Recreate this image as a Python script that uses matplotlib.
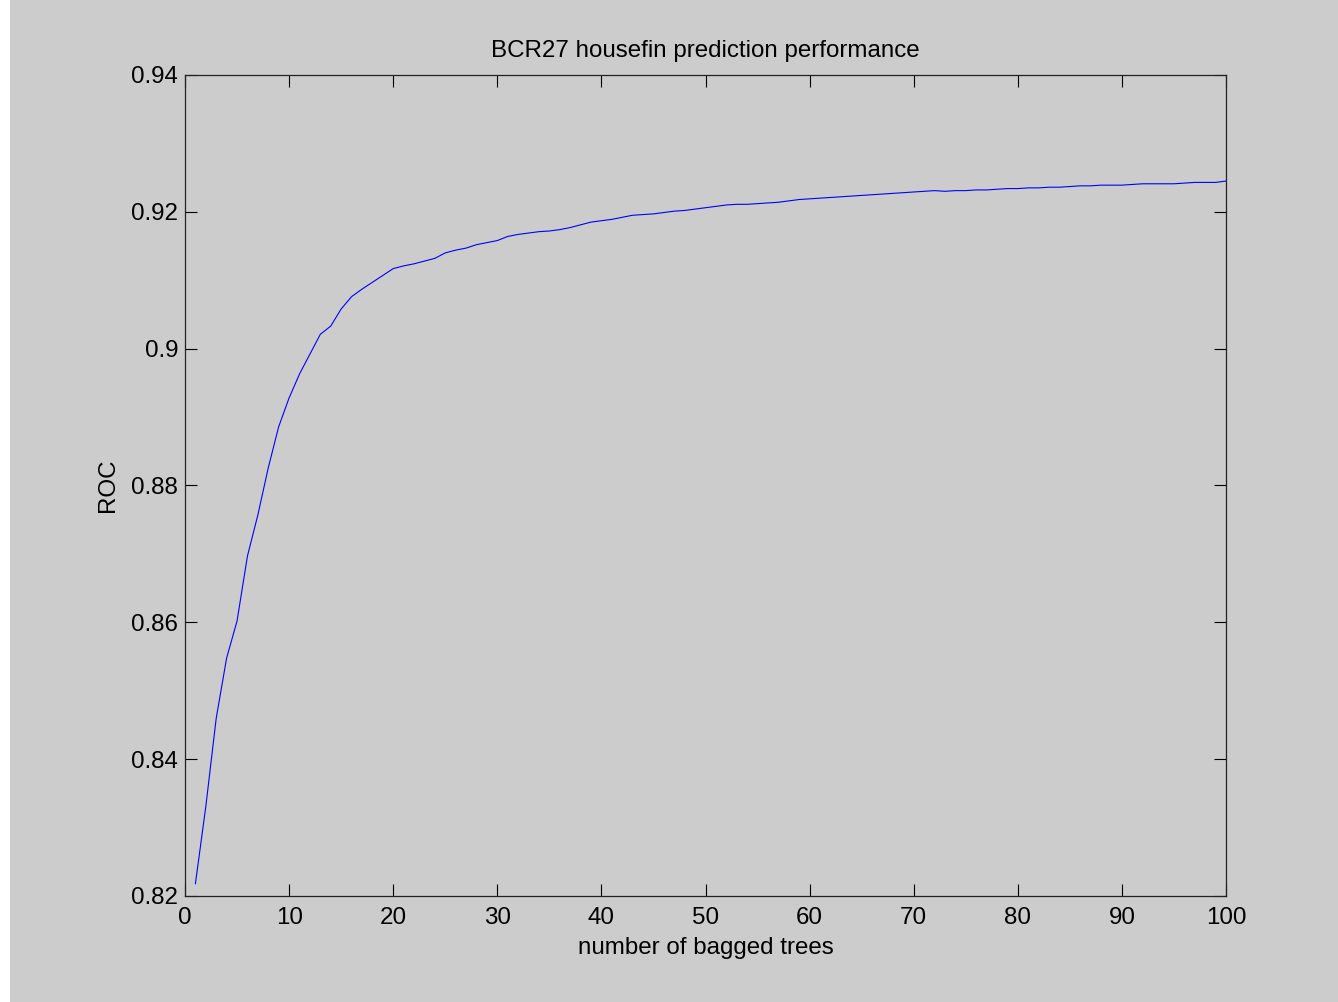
import matplotlib
matplotlib.use("Agg")
import matplotlib.pyplot as plt
import matplotlib.patches as mpatches
import numpy as np

plt.rcParams['font.family'] = ['Liberation Sans', 'DejaVu Sans']

# number of bagged trees vs ROC
n_trees = np.arange(1, 101)
roc = [
    0.8218, 0.8331, 0.8460, 0.8548, 0.8602, 0.8697, 0.8757, 0.8826, 0.8886, 0.8928,
    0.8963, 0.8992, 0.9021, 0.9033, 0.9058, 0.9076, 0.9087, 0.9097, 0.9107, 0.9117,
    0.9121, 0.9124, 0.9128, 0.9132, 0.9140, 0.9144, 0.9147, 0.9152, 0.9155, 0.9158,
    0.9164, 0.9167, 0.9169, 0.9171, 0.9172, 0.9174, 0.9177, 0.9181, 0.9185, 0.9187,
    0.9189, 0.9192, 0.9195, 0.9196, 0.9197, 0.9199, 0.9201, 0.9202, 0.9204, 0.9206,
    0.9208, 0.9210, 0.9211, 0.9211, 0.9212, 0.9213, 0.9214, 0.9216, 0.9218, 0.9219,
    0.9220, 0.9221, 0.9222, 0.9223, 0.9224, 0.9225, 0.9226, 0.9227, 0.9228, 0.9229,
    0.9230, 0.9231, 0.9230, 0.9231, 0.9231, 0.9232, 0.9232, 0.9233, 0.9234, 0.9234,
    0.9235, 0.9235, 0.9236, 0.9236, 0.9237, 0.9238, 0.9238, 0.9239, 0.9239, 0.9239,
    0.9240, 0.9241, 0.9241, 0.9241, 0.9241, 0.9242, 0.9243, 0.9243, 0.9243, 0.9245,
]

xticks = np.arange(0, 101, 10)
yticks = [0.82, 0.84, 0.86, 0.88, 0.90, 0.92, 0.94]
ytick_labels = ['0.82', '0.84', '0.86', '0.88', '0.9', '0.92', '0.94']

bg = '#cccccc'
fs = 17.4
fig = plt.figure(figsize=(13.38, 10.02), dpi=100, facecolor=bg)
# white strip on the left edge of the original screenshot
fig.patches.append(mpatches.Rectangle((0, 0), 10 / 1338, 1, transform=fig.transFigure,
                                      facecolor='white', edgecolor='none', zorder=-1))

ax = fig.add_axes([185 / 1338, 106 / 1002, 1041 / 1338, 821 / 1002])
ax.set_facecolor(bg)
ax.plot(n_trees, roc, color='#0000ff', linewidth=0.8)

ax.set_xlim(0, 100)
ax.set_ylim(0.82, 0.94)
ax.set_xticks(xticks)
ax.set_yticks(yticks)
ax.set_yticklabels(ytick_labels)

ax.tick_params(direction='in', length=8.5, width=0.8, top=True, right=True,
               labelsize=fs, colors='black')
ax.tick_params(axis='x', pad=8)
ax.tick_params(axis='y', pad=5)
for sp in ax.spines.values():
    sp.set_color('#222222')
    sp.set_linewidth(0.9)

ax.set_title('BCR27 housefin prediction performance', fontsize=fs, pad=13)
ax.set_xlabel('number of bagged trees', fontsize=fs, labelpad=6)
ax.set_ylabel('ROC', fontsize=fs, labelpad=9)

fig.savefig('out.png', dpi=100, facecolor=bg)
